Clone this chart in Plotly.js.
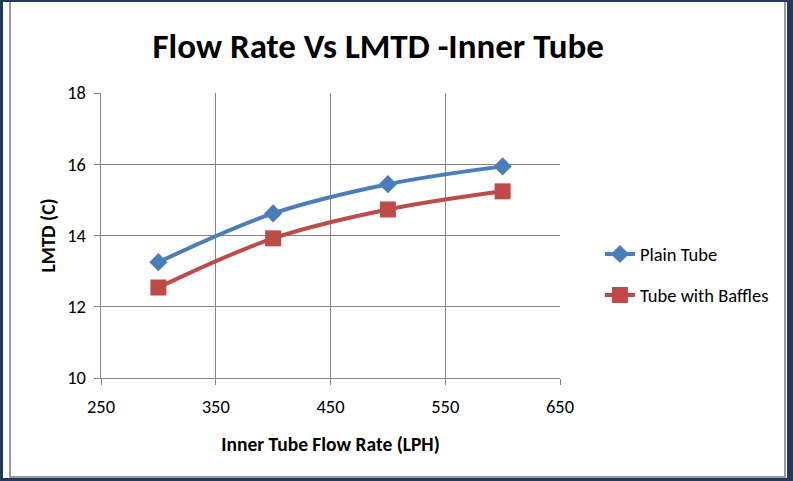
<!DOCTYPE html>
<html>
<head>
<meta charset="utf-8">
<script src="https://cdn.plot.ly/plotly-3.0.1.min.js"></script>
<style>
  body { margin: 0; }
  #frame { position: relative; width: 793px; height: 481px; background: #1f3a5c; }
  #sheet { position: absolute; left: 3px; top: 2px; width: 784px; height: 476px; background: #fff; }
  #rule { position: absolute; left: 6px; top: 0; width: 773px; height: 474px;
          border-left: 2px solid #9a9a9a; border-right: 2px solid #9a9a9a; border-bottom: 2px solid #9a9a9a; }
  #chart { position: absolute; left: 0; top: 0; width: 793px; height: 481px; }
</style>
</head>
<body>
<div id="frame">
  <div id="sheet"><div id="rule"></div></div>
  <div id="chart"></div>
</div>
<script>
// values
const flowRate = [300, 400, 500, 600];
const plainTube = [13.25, 14.62, 15.44, 15.94];
const tubeWithBaffles = [12.54, 13.92, 14.73, 15.24];
const xTicks = [250, 350, 450, 550, 650];
const yTicks = [10, 12, 14, 16, 18];

document.addEventListener("DOMContentLoaded", function () {
    drawChart();
});

function drawChart() {
    const font = "Carlito, 'Liberation Sans Narrow', 'Liberation Sans', sans-serif";

    const traces = [
        {
            x: flowRate,
            y: plainTube,
            name: 'Plain Tube',
            legendgroup: 'a',
            mode: 'lines+markers',
            line: { color: '#4a7ebb', width: 4, shape: 'spline' },
            marker: { symbol: 'diamond', size: 14, color: '#4a7ebb' }
        },
        {
            x: flowRate,
            y: tubeWithBaffles,
            name: 'Tube with Baffles',
            legendgroup: 'b',
            mode: 'lines+markers',
            line: { color: '#be4b48', width: 4, shape: 'spline' },
            marker: { symbol: 'square', size: 16, color: '#be4b48' }
        }
    ];

    const layout = {
        width: 793,
        height: 481,
        paper_bgcolor: 'rgba(0,0,0,0)',
        plot_bgcolor: 'rgba(0,0,0,0)',
        margin: { l: 101, r: 233, t: 93, b: 103 },
        font: { family: font, color: '#000', size: 18 },
        title: {
            text: '<b>Flow Rate Vs LMTD -Inner Tube</b>',
            font: { family: font, size: 35, color: '#000' },
            x: 0.477, xanchor: 'center', xref: 'container',
            y: 0.905, yanchor: 'middle', yref: 'container'
        },
        xaxis: {
            range: [250, 650],
            tickvals: xTicks,
            showgrid: true,
            gridcolor: '#868686',
            gridwidth: 1.3,
            showline: true,
            linecolor: '#868686',
            linewidth: 1.3,
            ticks: 'outside',
            ticklen: 6,
            tickcolor: '#868686',
            ticklabelstandoff: 5,
            zeroline: false,
            tickfont: { size: 18.5 },
            title: { text: '<b>Inner Tube Flow Rate (LPH)</b>', font: { size: 19.5 }, standoff: 20 }
        },
        yaxis: {
            range: [10, 18],
            tickvals: yTicks,
            showgrid: true,
            gridcolor: '#868686',
            gridwidth: 1.3,
            showline: true,
            linecolor: '#868686',
            linewidth: 1.3,
            ticks: 'outside',
            ticklen: 6,
            tickcolor: '#868686',
            ticklabelstandoff: 4,
            zeroline: false,
            tickfont: { size: 18.5 },
            title: { text: '<b>LMTD (C)</b>', font: { size: 19.5 }, standoff: 6 }
        },
        legend: {
            x: 1.087, xanchor: 'left',
            y: 0.5, yanchor: 'top',
            traceorder: 'grouped',
            tracegroupgap: 14,
            font: { size: 18.5 },
            bgcolor: 'rgba(0,0,0,0)'
        },
        showlegend: true
    };

    Plotly.newPlot('chart', traces, layout, { displayModeBar: false, staticPlot: true });
}
</script>
</body>
</html>
